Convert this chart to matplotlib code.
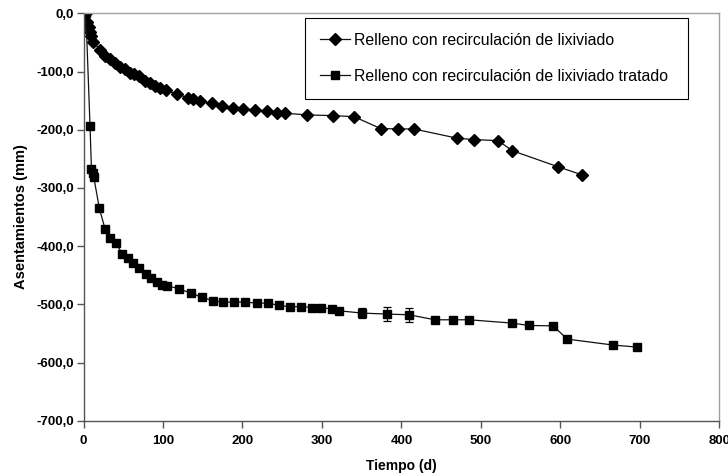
import matplotlib
matplotlib.use('Agg')
import matplotlib.pyplot as plt
from matplotlib.ticker import FuncFormatter

plt.rcParams['font.family'] = ['Liberation Sans', 'DejaVu Sans']

# serie 1: relleno con recirculacion de lixiviado
dias_lix = [3, 4.8, 6.5, 8.2, 9.8, 12.3, 20.8, 27, 33.3, 39.6, 45.9, 52.2, 58.5,
            63.5, 69.8, 77.4, 83.6, 90, 96.2, 103.8, 117.6, 131.4, 137.7, 146.5,
            161.3, 173.8, 187.7, 201, 215.7, 230.4, 243.8, 253.5, 281.5, 313.5,
            340.3, 373.8, 396, 415.7, 470.2, 491.6, 521.8, 539.4, 596.5, 627.4]
asent_lix = [0, -14.4, -23, -31.6, -38.5, -48.8, -63, -72.8, -79, -85.9, -91.7,
             -96.2, -102, -104.7, -107.7, -116.2, -120.2, -124.8, -127.7, -131.7,
             -139, -145, -147.7, -150.6, -154.5, -158.7, -162, -164.3, -166,
             -167.8, -171.7, -171.7, -174.6, -175.8, -177.5, -198, -198.7, -198.7,
             -214.6, -217, -218.8, -236, -263.4, -277.6]

# serie 2: relleno con recirculacion de lixiviado tratado
dias_trat = [3, 8.2, 10, 11.5, 13, 19.9, 27, 33.3, 40.9, 48.8, 56.4, 62.6, 70.2,
             78.2, 84.5, 92.1, 98.4, 105.4, 120.5, 134.8, 148.7, 162.5, 175.8,
             189.7, 203.5, 218.6, 232.5, 246.3, 259.7, 273.6, 287.8, 298.7, 313,
             321.8, 350.7, 382.1, 409.8, 442.1, 465.2, 485.3, 539.4, 560.8, 591,
             608.6, 666.4, 696.6]
asent_trat = [0, -193.6, -267, -274, -282, -334.8, -370, -386.3, -395, -413.3,
              -420.7, -429.3, -437.8, -448.1, -455, -461.9, -466.5, -468.2,
              -473.4, -480.8, -487.6, -494, -496.2, -496.2, -496.2, -498, -498,
              -502, -504.3, -503.8, -505.5, -505.5, -508.2, -511.2, -515.1,
              -516.8, -518, -526.6, -526.6, -526.6, -532.3, -536.4, -537,
              -559.8, -570, -573.5]

# barras de error (solo donde aparecen)
dias_err = [350.7, 382.1, 409.8]
asent_err = [-515.1, -516.8, -518]
desv_err = [8.6, 11.7, 12]

fig = plt.figure(figsize=(7.28, 4.75), dpi=100)
ax = fig.add_axes([0.1147, 0.1143, 0.8733, 0.8577])

ax.plot(dias_lix, asent_lix, '-', color='#111111', lw=0.9, marker='D',
        ms=6, mfc='black', mec='black', label='Relleno con recirculación de lixiviado')
ax.plot(dias_trat, asent_trat, '-', color='#111111', lw=0.9, marker='s',
        ms=5.5, mfc='black', mec='black',
        label='Relleno con recirculación de lixiviado tratado')
ax.errorbar(dias_err, asent_err, yerr=desv_err, fmt='none', ecolor='black',
            elinewidth=0.9, capsize=3, capthick=0.9)

ax.set_xlim(0, 800)
ax.set_ylim(-700, 0)
ax.set_xticks(range(0, 801, 100))
ax.set_yticks(range(-700, 1, 100))
ax.yaxis.set_major_formatter(FuncFormatter(lambda v, p: '{:.1f}'.format(v).replace('.', ',')))

for s in ['top', 'right']:
    ax.spines[s].set_color('#a0a0a0')
for s in ['left', 'bottom']:
    ax.spines[s].set_color('#555555')
for s in ax.spines.values():
    s.set_linewidth(1)

ax.tick_params(direction='out', length=5, width=1, color='#555555',
               labelsize=9.5)
ax.tick_params(axis='y', pad=2)
ax.tick_params(axis='x', pad=5)
for lab in ax.get_xticklabels() + ax.get_yticklabels():
    lab.set_fontweight('bold')

ax.set_xlabel('Tiempo (d)', fontsize=10, fontweight='bold', labelpad=9)
ax.set_ylabel('Asentamientos (mm)', fontsize=10.5, fontweight='bold', labelpad=6)

x0, y1 = 305 / 728, 1 - 18 / 475
x1, y0 = 688 / 728, 1 - 95 / 475
leg = ax.legend(loc='upper left', bbox_to_anchor=(x0, y0, x1 - x0, y1 - y0),
                bbox_transform=fig.transFigure, mode='expand', borderaxespad=0,
                fontsize=11.4, numpoints=1, handlelength=1.9, handletextpad=0.25,
                labelspacing=1.3, borderpad=0.95, fancybox=False,
                edgecolor='black', framealpha=1)
leg.get_frame().set_linewidth(0.8)

fig.savefig('out.png', dpi=100)
